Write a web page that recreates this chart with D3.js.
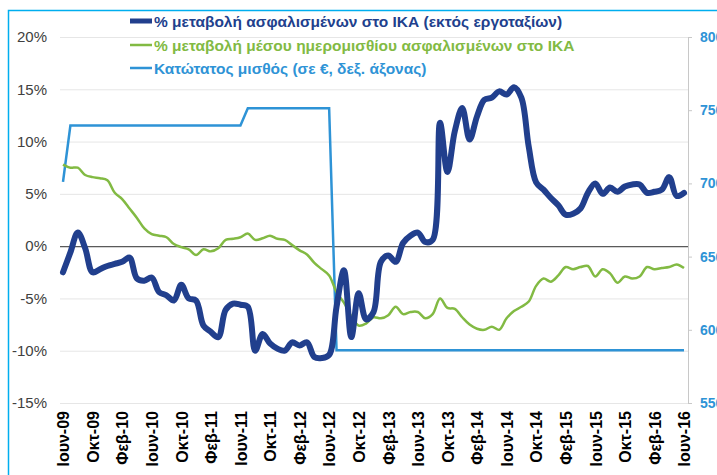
<!DOCTYPE html>
<html>
<head>
<meta charset="utf-8">
<script src="https://cdn.jsdelivr.net/npm/d3@7"></script>
<style>
  html, body { margin: 0; padding: 0; background: #fff; }
  svg { display: block; font-family: "Liberation Sans", Arial, sans-serif; }
</style>
</head>
<body>
<svg id="chart" width="717" height="475"></svg>
<script>
// ---- DATA ----
const monthNames = ["Ιαν","Φεβ","Μαρ","Απρ","Μαϊ","Ιουν","Ιουλ","Αυγ","Σεπ","Οκτ","Νοε","Δεκ"];
// Monthly categories Jun-09 .. Jun-16
const categories = [];
for (let y = 2009, m = 5; !(y === 2016 && m === 6); ) {
  categories.push(monthNames[m] + "-" + String(y).slice(2));
  m++; if (m === 12) { m = 0; y++; }
}
const tickLabels = ["Ιουν-09","Οκτ-09","Φεβ-10","Ιουν-10","Οκτ-10","Φεβ-11","Ιουν-11","Οκτ-11","Φεβ-12","Ιουν-12","Οκτ-12",
  "Φεβ-13","Ιουν-13","Οκτ-13","Φεβ-14","Ιουν-14","Οκτ-14","Φεβ-15","Ιουν-15","Οκτ-15","Φεβ-16","Ιουν-16"];

// % change of insured (excl. construction) — left axis
const insured = [
  -2.5, -0.6, 1.3, -0.2, -2.5, -2.2, -1.9, -1.7, -1.5, -1.1,
  -3.1, -3.3, -3.0, -4.4, -4.7, -5.2, -3.7, -5.0, -5.2, -7.6,
  -8.2, -8.7, -6.1, -5.5, -5.6, -5.8, -10.0, -8.4, -9.3, -9.8,
  -10.0, -9.2, -9.5, -9.2, -10.6, -10.7, -10.4, -5.8, -2.3, -8.7,
  -4.5, -7.0, -6.3, -1.5, -0.9, -1.5, 0.3, 1.0, 1.3, 0.4,
  0.6, 11.8, 7.1, 11.0, 13.2, 10.2, 12.4, 14.0, 14.2, 14.8,
  14.5, 15.2, 14.2, 9.5, 6.1, 5.4, 4.6, 3.9, 3.0, 3.1,
  3.6, 5.1, 6.0, 5.0, 5.6, 5.2, 5.7, 5.9, 5.9, 5.1,
  5.2, 5.4, 6.6, 4.8, 5.1
];
// % change of average daily wage — left axis
const wage = [
  7.8, 7.5, 7.5, 6.8, 6.6, 6.5, 6.3, 5.1, 4.5, 3.6,
  2.7, 1.7, 1.15, 1.0, 0.85, 0.2, -0.1, -0.3, -0.85, -0.3,
  -0.5, -0.2, 0.6, 0.7, 0.85, 1.2, 0.6, 0.75, 1.0, 0.7,
  0.6, 0.1, -0.4, -0.8, -1.6, -2.2, -2.8, -4.4, -5.4, -6.7,
  -7.6, -7.4, -6.8, -6.9, -6.6, -5.8, -6.5, -6.3, -6.3, -6.9,
  -6.5, -5.0, -5.9, -6.0, -6.8, -7.5, -7.9, -8.0, -7.7, -8.0,
  -6.9, -6.2, -5.8, -5.3, -3.8, -3.1, -3.4, -2.8, -2.0, -2.2,
  -2.0, -1.9, -2.9, -2.2, -2.6, -3.5, -2.9, -3.1, -2.9, -2.0,
  -2.2, -2.1, -2.0, -1.75, -2.1
];
// Minimum wage (€) — right axis
const minWage = [
  701,
  739.56, 739.56, 739.56, 739.56, 739.56, 739.56, 739.56, 739.56, 739.56, 739.56,
  739.56, 739.56, 739.56, 739.56, 739.56, 739.56, 739.56, 739.56, 739.56, 739.56,
  739.56, 739.56, 739.56, 739.56,
  751.39, 751.39, 751.39, 751.39, 751.39, 751.39, 751.39, 751.39, 751.39, 751.39,
  751.39, 751.39,
  586.08, 586.08, 586.08, 586.08, 586.08, 586.08, 586.08, 586.08, 586.08, 586.08,
  586.08, 586.08, 586.08, 586.08, 586.08, 586.08, 586.08, 586.08, 586.08, 586.08,
  586.08, 586.08, 586.08, 586.08, 586.08, 586.08, 586.08, 586.08, 586.08, 586.08,
  586.08, 586.08, 586.08, 586.08, 586.08, 586.08, 586.08, 586.08, 586.08, 586.08,
  586.08, 586.08, 586.08, 586.08, 586.08, 586.08, 586.08, 586.08
];
const leftTicks = [20, 15, 10, 5, 0, -5, -10, -15];
const rightTicks = [800, 750, 700, 650, 600, 550];
const legendLabels = [
  "% μεταβολή ασφαλισμένων στο ΙΚΑ (εκτός εργοταξίων)",
  "% μεταβολή μέσου ημερομισθίου ασφαλισμένων στο ΙΚΑ",
  "Κατώτατος μισθός (σε €, δεξ. άξονας)"
];

// ---- STYLE ----
const colInsured = "#213f8d", colWage = "#82ba43", colMin = "#2e93d6";

const svg = d3.select("#chart");
svg.append("rect").attr("width", 717).attr("height", 475).attr("fill", "#fff");
// outer frame
svg.append("rect").attr("x", 8.5).attr("y", 10.5).attr("width", 900).attr("height", 700)
  .attr("fill", "none").attr("stroke", "#00aeef").attr("stroke-width", 1.5);

const plotL = 60, plotR = 688, plotT = 37, plotB = 403;
const x = d3.scalePoint().domain(categories).range([63, 684]);
const yL = d3.scaleLinear().domain([-15, 20]).range([plotB, plotT]);
const yR = d3.scaleLinear().domain([550, 800]).range([plotB, plotT]);

// gridlines
svg.append("g").selectAll("line").data(leftTicks).join("line")
  .attr("x1", plotL).attr("x2", plotR)
  .attr("y1", d => yL(d) + 0.5).attr("y2", d => yL(d) + 0.5)
  .attr("stroke", "#e6e6e6").attr("stroke-width", 1);

// left axis
const gL = svg.append("g").attr("transform", `translate(${plotL},0)`)
  .call(d3.axisLeft(yL).tickValues(leftTicks).tickFormat(d => d + "%").tickSize(0).tickPadding(13));
gL.select(".domain").remove();
gL.selectAll("text").attr("font-size", 15).attr("fill", "#404040")
  .attr("font-family", "'Liberation Sans', Arial, sans-serif");

// right axis (labels run off the right edge, as in the reference)
const gR = svg.append("g").attr("transform", `translate(${plotR},0)`)
  .call(d3.axisRight(yR).tickValues(rightTicks).tickSize(4).tickPadding(8).tickSizeOuter(0));
gR.select(".domain").attr("stroke", "#c8c8c8");
gR.selectAll(".tick line").attr("stroke", "#c8c8c8");
gR.selectAll("text").attr("font-size", 14).attr("font-weight", "bold").attr("fill", colMin)
  .attr("font-family", "'Liberation Sans', Arial, sans-serif");

// x axis
const gX = svg.append("g").attr("transform", `translate(0,${plotB})`)
  .call(d3.axisBottom(x).tickValues(tickLabels).tickSize(0).tickPadding(0));
gX.select(".domain").remove();
gX.selectAll("text")
  .attr("font-size", 16).attr("font-weight", "bold").attr("fill", "#000")
  .attr("font-family", "'Liberation Sans', Arial, sans-serif")
  .attr("text-anchor", "end")
  .attr("transform", "translate(0,8) rotate(-90)")
  .attr("x", 0).attr("y", 0).attr("dy", "0.36em");

// zero line
svg.append("line").attr("x1", plotL).attr("x2", plotR)
  .attr("y1", yL(0) + 0.5).attr("y2", yL(0) + 0.5)
  .attr("stroke", "#5a5a5a").attr("stroke-width", 1.2);

// lines
const lineL = d3.line().x((d, i) => x(categories[i])).y(d => yL(d)).curve(d3.curveCatmullRom.alpha(0.5));
const lineR = d3.line().x((d, i) => x(categories[i])).y(d => yR(d));

svg.append("path").datum(minWage).attr("d", lineR)
  .attr("fill", "none").attr("stroke", colMin).attr("stroke-width", 2.5);
svg.append("path").datum(wage).attr("d", lineL)
  .attr("fill", "none").attr("stroke", colWage).attr("stroke-width", 2.5).attr("stroke-linejoin", "round");
svg.append("path").datum(insured).attr("d", lineL)
  .attr("fill", "none").attr("stroke", colInsured).attr("stroke-width", 6)
  .attr("stroke-linejoin", "round").attr("stroke-linecap", "round");

// legend
const legCols = [colInsured, colWage, colMin];
const legW = [5, 2.5, 2.5];
const legY = [21, 45, 68];
const leg = svg.append("g");
legendLabels.forEach((t, i) => {
  leg.append("line").attr("x1", 130).attr("x2", 152).attr("y1", legY[i]).attr("y2", legY[i])
    .attr("stroke", legCols[i]).attr("stroke-width", legW[i]);
  leg.append("text").attr("x", 154).attr("y", legY[i]).attr("dy", "0.36em")
    .attr("font-size", 15.5).attr("font-weight", "bold").attr("fill", legCols[i])
    .text(t);
});
</script>
</body>
</html>
